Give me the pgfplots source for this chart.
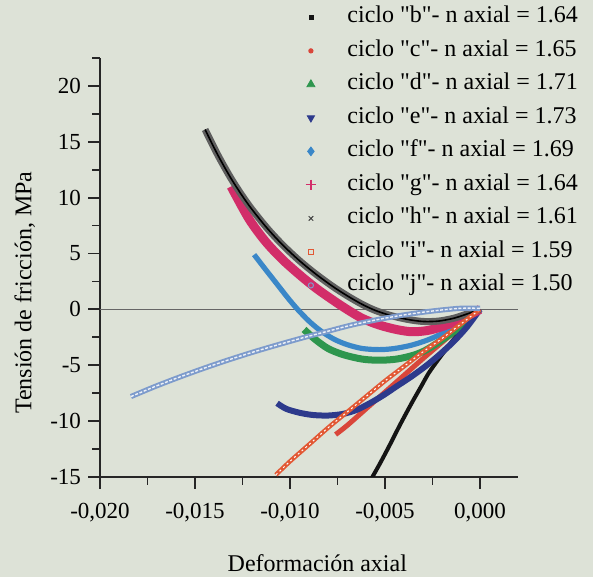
\documentclass[border=0pt]{standalone}
\usepackage{fontspec}
\setmainfont{Liberation Serif}[Ligatures=TeXOff]
\usepackage{pgfplots}
\pgfplotsset{compat=1.18}
\usepackage{pgfplotstable}
\definecolor{bg}{RGB}{221,226,215}
\definecolor{cb}{RGB}{20,20,20}
\definecolor{cc}{RGB}{217,70,58}
\definecolor{cd}{RGB}{46,150,78}
\definecolor{ce}{RGB}{45,58,140}
\definecolor{cf}{RGB}{58,135,200}
\definecolor{cg}{RGB}{210,45,105}
\definecolor{ch}{RGB}{95,95,95}
\definecolor{ci}{RGB}{226,88,52}
\definecolor{cj}{RGB}{125,155,204}

\pgfplotstableread{
x y
-0.0058 -15.4
-0.0053 -13.9
-0.0048 -12.3
-0.0042 -10.3
-0.0036 -8.4
-0.0031 -6.9
-0.0027 -5.7
-0.0022 -4.5
-0.0018 -3.6
-0.0014 -2.7
-0.0010 -1.9
-0.0005 -0.9
0.0 0.0
}\tabb
\pgfplotstableread{
x y
-0.0076 -11.2
-0.0070 -10.4
-0.0060 -8.9
-0.0050 -7.4
-0.0040 -5.9
-0.0030 -4.4
-0.0020 -2.95
-0.0010 -1.5
0.0 0.0
}\tabc
\pgfplotstableread{
x y
-0.00926 -1.8
-0.0087 -2.65
-0.0080 -3.5
-0.0072 -4.05
-0.0062 -4.45
-0.0053 -4.55
-0.0044 -4.45
-0.0035 -4.1
-0.0028 -3.6
-0.0018 -2.5
-0.0010 -1.5
-0.0003 -0.5
}\tabd
\pgfplotstableread{
x y
-0.01068 -8.4
-0.0102 -8.9
-0.0095 -9.25
-0.0088 -9.45
-0.0080 -9.5
-0.0072 -9.35
-0.0065 -9.0
-0.0058 -8.4
-0.0051 -7.7
-0.0044 -6.9
-0.0036 -6.0
-0.0028 -5.0
-0.0021 -4.0
-0.0014 -2.9
-0.0007 -1.6
0.0 0.0
}\tabe
\pgfplotstableread{
x y
-0.01189 4.9
-0.0113 3.6
-0.0107 2.3
-0.0101 1.0
-0.0096 0.0
-0.0090 -1.05
-0.0084 -1.9
-0.0077 -2.65
-0.0070 -3.15
-0.0062 -3.5
-0.0053 -3.6
-0.0045 -3.5
-0.0036 -3.2
-0.0027 -2.7
-0.0018 -2.0
-0.0010 -1.2
0.0 0.0
}\tabf
\pgfplotstableread{
x y
-0.0131 11.0
-0.01216 8.1
-0.0113 6.1
-0.01042 4.5
-0.0095 3.1
-0.00863 1.9
-0.0078 0.9
-0.0070 0.0
-0.0062 -0.8
-0.0053 -1.4
-0.0044 -1.8
-0.0036 -2.0
-0.0028 -1.9
-0.0021 -1.6
-0.0014 -1.15
-0.0007 -0.6
0.0 0.0
}\tabg
\pgfplotstableread{
x y
-0.01447 16.1
-0.0138 13.82
-0.01305 11.57
-0.0122 9.4
-0.01126 7.38
-0.0104 5.79
-0.00953 4.4
-0.0087 3.24
-0.00779 2.1
-0.0070 1.23
-0.0062 0.45
-0.0055 -0.1
-0.0047 -0.55
-0.0038 -0.9
-0.0030 -1.08
-0.0022 -1.05
-0.0014 -0.8
-0.0007 -0.42
0.0 0.0
}\tabh
\pgfplotstableread{
x y
-0.01074 -14.8
-0.0100 -13.6
-0.0090 -12.1
-0.0080 -10.6
-0.0070 -9.2
-0.0060 -7.8
-0.0050 -6.4
-0.0040 -5.1
-0.0030 -3.8
-0.0020 -2.6
-0.0010 -1.3
0.0 0.0
}\tabi
\pgfplotstableread{
x y
-0.01837 -7.8
-0.0171 -6.9
-0.0158 -6.05
-0.0145 -5.25
-0.0132 -4.5
-0.0119 -3.8
-0.0106 -3.15
-0.0093 -2.53
-0.0080 -1.95
-0.0068 -1.42
-0.0055 -0.95
-0.0042 -0.55
-0.0030 -0.25
-0.0020 -0.05
-0.0010 0.1
0.0 0.1
}\tabj

\newcommand{\legimg}[1]{\path (0cm,0cm) (0.6cm,0cm); \draw[only marks,line width=0.4pt,#1] plot coordinates {(0.3cm,0cm)};}

\begin{document}
\begin{tikzpicture}
\fill[bg] (0,0) rectangle (296.5pt,288.5pt);
\begin{axis}[
  at={(50pt,50pt)}, anchor=south west,
  scale only axis, width=209pt, height=209.5pt,
  xmin=-0.020, xmax=0.002, ymin=-15, ymax=22.5,
  axis lines=left,
  axis line style={-, line width=0.9pt, color=black!85},
  scaled x ticks=false, scaled y ticks=false,
  xtick={-0.02,-0.015,-0.01,-0.005,0},
  xticklabels={{-0,020},{-0,015},{-0,010},{-0,005},{0,000}},
  minor xtick={-0.0175,-0.0125,-0.0075,-0.0025},
  ytick={-15,-10,-5,0,5,10,15,20},
  yticklabels={-15,-10,-5,0,5,10,15,20},
  minor ytick={-12.5,-7.5,-2.5,2.5,7.5,12.5,17.5,22.5},
  tick align=outside, major tick length=6pt, minor tick length=4pt,
  tick style={line width=0.9pt, color=black!85},
  ticklabel style={font=\fontsize{11.5}{13}\selectfont},
  xticklabel style={yshift=-3.5pt},
  xlabel={Deformación axial},
  ylabel={Tensión de fricción, MPa},
  label style={font=\fontsize{12}{14}\selectfont},
  xlabel style={at={(axis description cs:0.52,-0.205)}, anchor=center},
  ylabel style={at={(axis description cs:-0.18,0.44)}, anchor=center},
  legend cell align=left,
  legend style={at={(axis description cs:0.452,1.1253)}, anchor=north west,
    draw=none, fill=none, inner sep=0pt, row sep=5.25pt, column sep=7.5pt,
    font=\fontsize{12}{14}\selectfont,
    nodes={inner sep=0pt, text height=8.5pt, text depth=3pt}},
  every axis plot/.append style={smooth},
]
\addplot[forget plot, line width=0.5pt, color=black!60, sharp plot] coordinates {(-0.02,0) (0.002,0)};

\addplot[cb, line width=2pt, legend image code/.code={\legimg{cb, mark=square*, mark size=1pt}}] table {\tabb};
\addlegendentry{ciclo "b"- n axial = 1.64}
\addplot[cc, line width=2.5pt, legend image code/.code={\legimg{cc, mark=*, mark size=1.1pt}}] table {\tabc};
\addlegendentry{ciclo "c"- n axial = 1.65}
\addplot[cd, line width=3.5pt, legend image code/.code={\legimg{cd, mark=triangle*, mark size=2.3pt}}] table {\tabd};
\addlegendentry{ciclo "d"- n axial = 1.71}
\addplot[ce, line width=3pt, legend image code/.code={\legimg{ce, mark=triangle*, mark size=2.1pt, mark options={rotate=180}}}] table {\tabe};
\addlegendentry{ciclo "e"- n axial = 1.73}
\addplot[cf, line width=2.6pt, legend image code/.code={\legimg{cf, mark=diamond*, mark size=2.2pt}}] table {\tabf};
\addlegendentry{ciclo "f"- n axial = 1.69}
\addplot[cg, line width=4.5pt, legend image code/.code={\legimg{cg, mark=+, mark size=2.6pt, line width=0.6pt}}] table {\tabg};
\addlegendentry{ciclo "g"- n axial = 1.64}
\addplot[ch, line width=3.5pt, legend image code/.code={\legimg{black!75, mark=x, mark size=1.6pt, line width=0.5pt}}] table {\tabh};
\addlegendentry{ciclo "h"- n axial = 1.61}
\addplot[forget plot, black, line width=0.8pt] table {\tabh};
\addplot[ci, line width=2.2pt, legend image code/.code={\legimg{ci, mark=square, mark size=1.4pt, line width=0.5pt}}] table {\tabi};
\addlegendentry{ciclo "i"- n axial = 1.59}
\addplot[forget plot, white, line width=0.5pt, dash pattern=on 1pt off 1.5pt] table {\tabi};
\addplot[cj, line width=2.6pt, legend image code/.code={\legimg{cj, mark=o, mark size=1.3pt, line width=0.5pt}}] table {\tabj};
\addlegendentry{ciclo "j"- n axial = 1.50}
\addplot[forget plot, white!85!cj, line width=0.7pt, dash pattern=on 1.5pt off 0.8pt] table {\tabj};
\end{axis}
\end{tikzpicture}
\end{document}
